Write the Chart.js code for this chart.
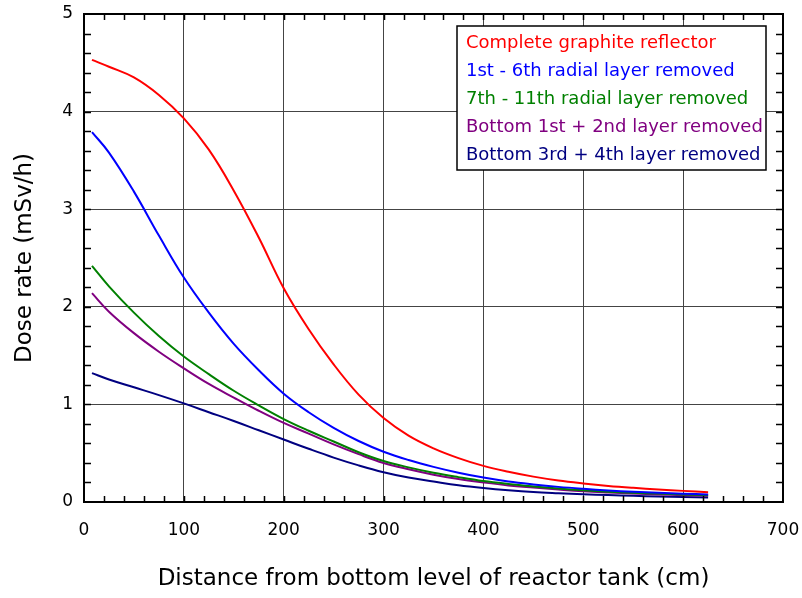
<!DOCTYPE html>
<html>
<head>
<meta charset="utf-8">
<script src="https://cdn.jsdelivr.net/npm/chart.js@4"></script>
<style>
  html, body { margin: 0; padding: 0; background: #fff; }
  #wrap { width: 802px; height: 598px; position: relative; }
</style>
</head>
<body>
<div id="wrap"><canvas id="myChart"></canvas></div>
<script>
// distance from bottom level (cm)
const distance = [8, 25, 50, 75, 100, 125, 150, 175, 200, 225, 250, 275, 300, 325, 350, 375, 400, 425, 450, 475, 500, 525, 550, 575, 600, 625];

// dose rate (mSv/h)
const completeReflector = [4.53, 4.46, 4.35, 4.17, 3.93, 3.61, 3.19, 2.71, 2.19, 1.77, 1.41, 1.10, 0.86, 0.68, 0.55, 0.45, 0.37, 0.31, 0.26, 0.22, 0.19, 0.165, 0.145, 0.128, 0.114, 0.10];
const radial1to6 = [3.79, 3.58, 3.18, 2.73, 2.30, 1.94, 1.62, 1.35, 1.11, 0.92, 0.76, 0.625, 0.515, 0.43, 0.36, 0.30, 0.25, 0.21, 0.18, 0.155, 0.135, 0.118, 0.105, 0.094, 0.085, 0.078];
const radial7to11 = [2.42, 2.21, 1.94, 1.70, 1.49, 1.31, 1.14, 0.99, 0.85, 0.73, 0.62, 0.51, 0.42, 0.355, 0.30, 0.255, 0.215, 0.185, 0.16, 0.138, 0.12, 0.106, 0.095, 0.086, 0.078, 0.07];
const bottom1and2 = [2.14, 1.95, 1.73, 1.54, 1.37, 1.21, 1.07, 0.935, 0.81, 0.70, 0.59, 0.49, 0.40, 0.335, 0.28, 0.235, 0.20, 0.17, 0.148, 0.128, 0.11, 0.097, 0.086, 0.077, 0.07, 0.064];
const bottom3and4 = [1.32, 1.255, 1.175, 1.095, 1.01, 0.92, 0.83, 0.735, 0.64, 0.545, 0.455, 0.375, 0.305, 0.25, 0.21, 0.172, 0.143, 0.12, 0.102, 0.09, 0.08, 0.071, 0.063, 0.056, 0.05, 0.045];

const seriesLabels = [
  'Complete graphite reflector',
  '1st - 6th radial layer removed',
  '7th - 11th radial layer removed',
  'Bottom 1st + 2nd layer removed',
  'Bottom 3rd + 4th layer removed'
];
const seriesColors = ['#ff0000', '#0000ff', '#008000', '#800080', '#000080'];
const seriesValues = [completeReflector, radial1to6, radial7to11, bottom1and2, bottom3and4];

const FONT = "'DejaVu Sans', sans-serif";

function toPoints(values) {
  return values.map((v, i) => ({ x: distance[i], y: v }));
}

function noOverhang(scale) {
  scale.paddingLeft = 0;
  scale.paddingRight = 0;
  scale.paddingTop = 0;
  scale.paddingBottom = 0;
}

// frame, inward minor ticks and the boxed legend
const framePlugin = {
  id: 'frame',
  afterDatasetsDraw(chart) {
    const c = chart.ctx;
    const a = chart.chartArea;
    const xs = chart.scales.x, ys = chart.scales.y;
    c.save();
    c.strokeStyle = '#000';
    c.lineWidth = 1.5;
    c.beginPath();
    for (let v = 20; v < 700; v += 20) {
      const px = Math.round(xs.getPixelForValue(v)) + 0.5;
      c.moveTo(px, a.bottom); c.lineTo(px, a.bottom - 6);
      c.moveTo(px, a.top); c.lineTo(px, a.top + 6);
    }
    for (let k = 1; k < 25; k++) {
      const py = Math.round(ys.getPixelForValue(k * 0.2)) + 0.5;
      c.moveTo(a.left, py); c.lineTo(a.left + 7, py);
      c.moveTo(a.right, py); c.lineTo(a.right - 7, py);
    }
    c.stroke();
    c.lineWidth = 2;
    c.strokeRect(a.left, a.top, a.right - a.left, a.bottom - a.top);

    // legend
    const bx = 457, by = 26, bw = 309, bh = 144;
    c.fillStyle = '#fff';
    c.fillRect(bx, by, bw, bh);
    c.lineWidth = 1.5;
    c.strokeRect(bx, by, bw, bh);
    c.font = '18px ' + FONT;
    c.textBaseline = 'middle';
    c.textAlign = 'left';
    seriesLabels.forEach((lab, i) => {
      c.fillStyle = seriesColors[i];
      c.fillText(lab, bx + 9, by + 17 + i * 28);
    });
    c.restore();
  }
};

const ctx = document.getElementById('myChart');
const chart = new Chart(ctx, {
  type: 'line',
  data: {
    datasets: seriesValues.map((vals, i) => ({
      label: seriesLabels[i],
      data: toPoints(vals),
      borderColor: seriesColors[i],
      backgroundColor: seriesColors[i],
      borderWidth: 2,
      pointRadius: 0,
      tension: 0.4,
      fill: false
    }))
  },
  options: {
    responsive: true,
    maintainAspectRatio: false,
    animation: false,
    layout: { padding: { top: 14, right: 19, left: 0, bottom: 0 } },
    plugins: {
      legend: { display: false },
      tooltip: { enabled: false }
    },
    scales: {
      x: {
        type: 'linear',
        min: 0,
        max: 700,
        afterFit(scale) { scale.height = 96; noOverhang(scale); },
        ticks: { stepSize: 100, color: '#000', padding: 18, font: { family: FONT, size: 17 } },
        grid: { color: '#444', lineWidth: 1, drawTicks: false },
        border: { color: '#000', width: 2 },
        title: {
          display: true,
          text: 'Distance from bottom level of reactor tank (cm)',
          color: '#000',
          font: { family: FONT, size: 23 },
          padding: { top: 0, bottom: 5 }
        }
      },
      y: {
        min: 0,
        max: 5,
        afterFit(scale) { scale.width = 84; noOverhang(scale); },
        ticks: { stepSize: 1, color: '#000', padding: 11, font: { family: FONT, size: 17 } },
        grid: { color: '#444', lineWidth: 1, drawTicks: false },
        border: { color: '#000', width: 2 },
        title: {
          display: true,
          text: 'Dose rate (mSv/h)',
          color: '#000',
          font: { family: FONT, size: 23 },
          padding: { top: 11, bottom: 0 }
        }
      }
    }
  },
  plugins: [framePlugin]
});
</script>
</body>
</html>
